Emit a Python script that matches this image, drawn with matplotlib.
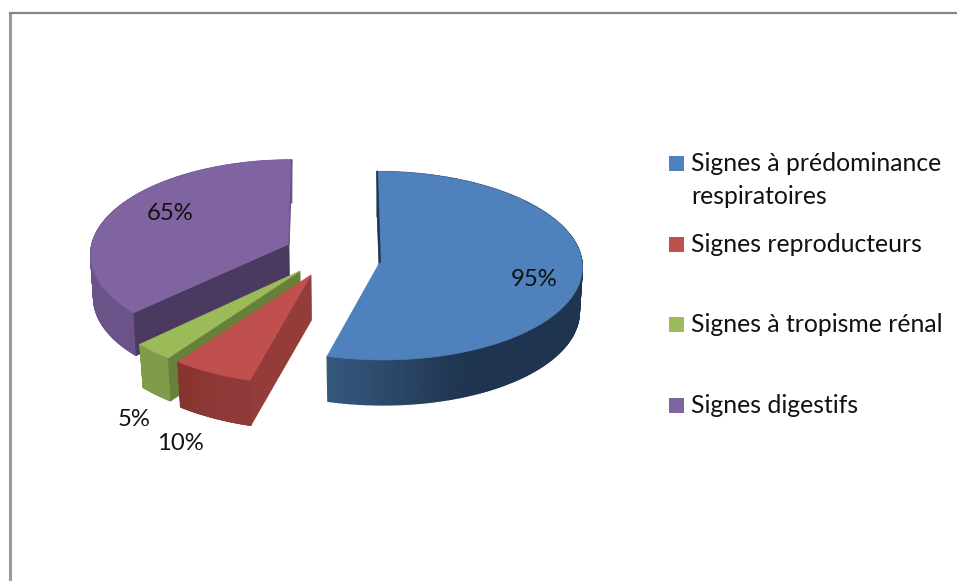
import numpy as np
import matplotlib
matplotlib.use('Agg')
import matplotlib.pyplot as plt
from matplotlib.colors import to_rgb
from matplotlib.patches import Polygon, Rectangle

# data
categories = ['Signes à prédominance\nrespiratoires', 'Signes reproducteurs',
              'Signes à tropisme rénal', 'Signes digestifs']
values = [95, 10, 5, 65]
labels = ['95%', '10%', '5%', '65%']

# look of each slice
top_colors = ['#4F81BD', '#C0504D', '#9BBB59', '#8064A2']
wall_left = ['#36597f', '#86342f', '#7f9c4a', '#6b5389']
wall_right = ['#1f344f', '#8f3a38', '#7f9c4a', '#6b5389']
cut_colors = ['#1f344f', '#943c3a', '#67803a', '#4b3a60']
# apex x, apex y, rx, ry, perspective, lean, height, shrink of lower face
geom = [(380, 262, 202, 94, 0.04, -3, 45, 0.985),
        (311, 275, 208, 98.7, 0.10, 0, 45, 0.98),
        (300, 271, 206, 98.6, 0.10, 0, 43, 0.98),
        (289, 244, 197, 92.4, 0.10, 3, 43, 0.985)]
label_pos = [(534, 280), (180, 443), (134, 419), (170, 213)]
legend_y = [163.5, 244.5, 324.5, 405.5]
draw_order = [3, 2, 1, 0]

fig = plt.figure(figsize=(9.57, 5.81), dpi=100)
ax = fig.add_axes([0, 0, 1, 1])
ax.set_xlim(0, 957)
ax.set_ylim(581, 0)
ax.axis('off')

# frame, open at the bottom
ax.plot([9.5, 9.5], [13, 581], color='#9a9a9a', lw=2.2, solid_capstyle='butt')
ax.plot([8.5, 957], [13, 13], color='#868686', lw=1.6, solid_capstyle='butt')


def project(t, g):
    cx, cy, rx, ry, k, lean = g[:6]
    X, Y = np.cos(t), np.sin(t)
    w = 1 + k * Y
    return cx + (rx * X + lean * Y) / w, cy - ry * Y / w


# slice angles, clockwise from 12 o'clock
sweep = np.array(values) / sum(values) * 2 * np.pi
stops = np.pi / 2 - np.concatenate([[0], np.cumsum(sweep)])

for i in draw_order:
    g = geom[i]
    cx, cy, h, shrink = g[0], g[1], g[6], g[7]
    t = np.linspace(stops[i], stops[i + 1], 180)
    x, y = project(t, g)
    xb = cx + (x - cx) * shrink
    yb = y + h

    # outer wall as thin strips so the shade can run along it
    c0, c1 = np.array(to_rgb(wall_left[i])), np.array(to_rgb(wall_right[i]))
    for j in range(len(t) - 1):
        f = np.clip((x[j] - x.min()) / max(x.max() - x.min(), 1) / 0.55, 0, 1)
        col = c1 * f + c0 * (1 - f)
        ax.add_patch(Polygon([(x[j], y[j]), (x[j + 1], y[j + 1]),
                              (xb[j + 1], yb[j + 1]), (xb[j], yb[j])],
                             closed=True, fc=col, ec=col, lw=1.0))

    # cut face at the start of the slice
    ax.add_patch(Polygon([(cx, cy), (x[0], y[0]), (xb[0], yb[0]), (cx + 0.5, cy + h)],
                         closed=True, fc=cut_colors[i], ec=cut_colors[i], lw=0.5))

    # top face
    ax.add_patch(Polygon(np.column_stack([np.r_[cx, x], np.r_[cy, y]]), closed=True,
                         fc=top_colors[i], ec=top_colors[i], lw=0.5))

    # dark rim along the back cut
    if i == 0:
        ax.plot([x[0], cx], [y[0], cy], color=cut_colors[i], lw=1.2)
    if i == 3:
        ax.plot([x[-1], cx], [y[-1], cy], color='#6b5389', lw=1.0)

font = 'Lato'
for lab, (px, py) in zip(labels, label_pos):
    ax.text(px, py, lab, ha='center', va='center', fontsize=17.2, family=font, color='#111111')

for cat, col, ly in zip(categories, top_colors, legend_y):
    ax.add_patch(Rectangle((669, ly - 7.5), 15, 15, fc=col, ec='none'))
    ax.text(691, ly - 11.5, cat, ha='left', va='top', fontsize=17.8, family=font,
            color='#111111', linespacing=1.5)

fig.savefig('out.png', dpi=100)
